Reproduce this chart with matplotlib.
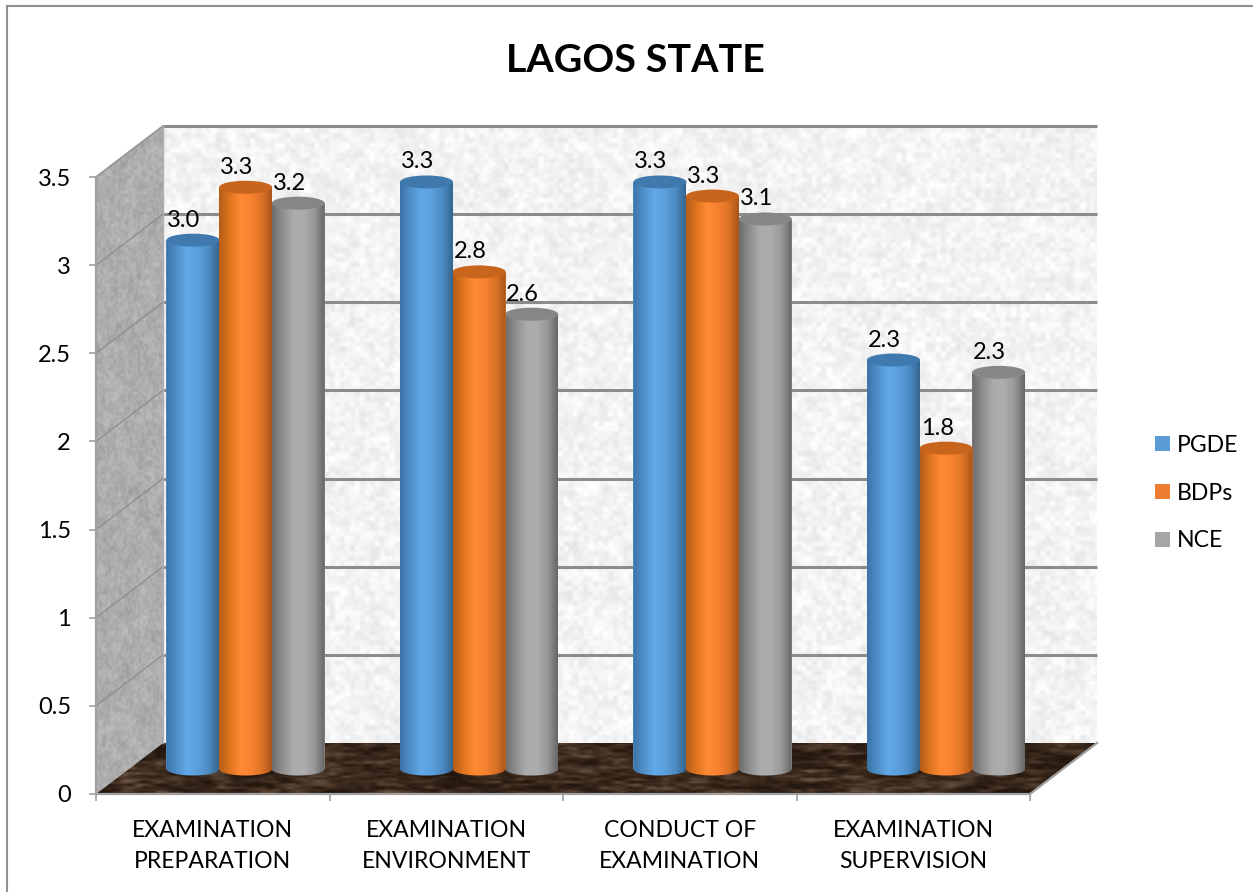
import numpy as np
import matplotlib
matplotlib.use("Agg")
import matplotlib.pyplot as plt
from matplotlib.patches import Polygon, Ellipse, Patch
from matplotlib.lines import Line2D
from matplotlib.colors import LinearSegmentedColormap

categories = ["EXAMINATION\nPREPARATION", "EXAMINATION\nENVIRONMENT",
              "CONDUCT OF\nEXAMINATION", "EXAMINATION\nSUPERVISION"]
series_names = ["PGDE", "BDPs", "NCE"]
pgde = [3.00, 3.33, 3.33, 2.32]
bdps = [3.30, 2.82, 3.25, 1.82]
nce = [3.21, 2.58, 3.12, 2.25]
pgde_labels = ["3.0", "3.3", "3.3", "2.3"]
bdps_labels = ["3.3", "2.8", "3.3", "1.8"]
nce_labels = ["3.2", "2.6", "3.1", "2.3"]
y_ticks = [0, 0.5, 1, 1.5, 2, 2.5, 3, 3.5]
y_tick_labels = ["0", "0.5", "1", "1.5", "2", "2.5", "3", "3.5"]
title = "LAGOS STATE"

FONT = ["Lato", "DejaVu Sans"]
plt.rcParams["font.family"] = FONT
W, H = 1253, 892
fig = plt.figure(figsize=(W / 100, H / 100), dpi=100, facecolor="white")
L, R, T, B = 96, 1030, 177, 794
ax = fig.add_axes([L / W, 1 - B / H, (R - L) / W, (B - T) / H])
ax.patch.set_alpha(0)
ux, uy = (R - L) / 4, (B - T) / 3.5
DX, DY = 67 / ux, 51 / uy


def hash_noise(h, w, seed):
    yy, xx = np.mgrid[0:h, 0:w]
    v = np.sin(xx * 12.9898 + yy * 78.233 + seed * 37.719) * 43758.5453
    return v - np.floor(v)


def smooth_noise(h, w, cell_y, seed, cell_x=None):
    cell_x = cell_x or cell_y
    ch, cw = h // cell_y + 2, w // cell_x + 2
    g = hash_noise(ch, cw, seed)
    yi = np.arange(h) / cell_y
    xi = np.arange(w) / cell_x
    y0, x0 = yi.astype(int), xi.astype(int)
    fy, fx = (yi - y0)[:, None], (xi - x0)[None, :]
    fy, fx = fy * fy * (3 - 2 * fy), fx * fx * (3 - 2 * fx)
    a = g[np.ix_(y0, x0)]
    b = g[np.ix_(y0, x0 + 1)]
    c = g[np.ix_(y0 + 1, x0)]
    d = g[np.ix_(y0 + 1, x0 + 1)]
    return (a * (1 - fx) + b * fx) * (1 - fy) + (c * (1 - fx) + d * fx) * fy


def textured(tex, extent, corners, z):
    im = ax.imshow(tex, extent=extent, aspect="auto", origin="lower",
                   interpolation="bilinear", zorder=z)
    poly = Polygon(corners, closed=True, transform=ax.transData)
    im.set_clip_path(poly)
    im.set_clip_box(fig.bbox)
    return im


# back wall
h, w = 620, 940
n = (0.55 * smooth_noise(h, w, 5, 1) + 0.25 * smooth_noise(h, w, 12, 2)
     + 0.2 * smooth_noise(h, w, 3, 3))
v = np.clip(0.955 + (n - 0.5) * 0.14, 0, 1)
tex = np.dstack([v, v, v])
back = [(DX, DY), (4 + DX, DY), (4 + DX, 3.5 + DY), (DX, 3.5 + DY)]
textured(tex, (DX, 4 + DX, DY, 3.5 + DY), back, 1)

# side wall
h, w = 670, 70
n = (0.5 * smooth_noise(h, w, 3, 4, 2) + 0.3 * smooth_noise(h, w, 7, 5, 4)
     + 0.2 * smooth_noise(h, w, 20, 9, 12))
v = np.clip(0.68 + (n - 0.5) * 0.17, 0, 1)
tex = np.dstack([v, v, v])
side = [(0, 0), (DX, DY), (DX, 3.5 + DY), (0, 3.5)]
textured(tex, (0, DX, 0, 3.5 + DY), side, 1)

# floor
h, w = 55, 1010
n = (0.45 * smooth_noise(h, w, 3, 6, 16) + 0.3 * smooth_noise(h, w, 8, 7, 40)
     + 0.25 * smooth_noise(h, w, 2, 8, 7))
n = np.clip((n - 0.5) * 1.8 + 0.42, 0, 1)
floor_cmap = LinearSegmentedColormap.from_list("f", ["#24170e", "#3d2b1e", "#65503f"])
tex = floor_cmap(n)[:, :, :3]
floor = [(0, 0), (4, 0), (4 + DX, DY), (DX, DY)]
textured(tex, (0, 4 + DX, 0, DY), floor, 1)

# gridlines: back wall and side wall
for t in y_ticks[1:]:
    ax.plot([DX, 4 + DX], [t + DY, t + DY], color="#8c8c8c", lw=2.2, zorder=2,
            clip_on=False, solid_capstyle="butt")
    ax.plot([0, DX], [t, t + DY], color="#8f8f8f", lw=1.0, zorder=2, clip_on=False)
ax.plot([DX, DX], [DY, 3.5 + DY], color="#b0b0b0", lw=1.0, zorder=2, clip_on=False)
ax.plot([0, DX], [3.5, 3.5 + DY], color="#9a9a9a", lw=1.2, zorder=2, clip_on=False)
ax.plot([4, 4 + DX], [0, DY], color="#a0a0a0", lw=1.6, zorder=3, clip_on=False)

# cylinders
ramps = [
    (["#3c73a6", "#4f8fc9", "#62a9e8", "#5b9fdc", "#4d8cc4", "#34658f"], "#3f79ae", "#5b9bd5"),
    (["#b55c18", "#e0751f", "#ff8a33", "#f98230", "#dd7427", "#a9551a"], "#c8641c", "#ed7d31"),
    (["#6c6c6c", "#8f8f8f", "#ababab", "#adadad", "#999999", "#666666"], "#868686", "#a5a5a5"),
]
width = 53 / ux
step = 52.6 / ux
e_h = 13 / uy
base = 0.49 * DY
shift = 0.49 * DX + 0.5
x_idx = np.arange(len(categories), dtype=float)
order = [0, 2, 1]
all_vals = [pgde, bdps, nce]
all_labels = [pgde_labels, bdps_labels, nce_labels]
label_z = [20, 20, 5.9]
t_arc = np.linspace(np.pi, 2 * np.pi, 40)
for s in order:
    vals = all_vals[s]
    ramp, top_col, base_col = ramps[s]
    cmap = LinearSegmentedColormap.from_list("c%d" % s, ramp)
    xs = x_idx + shift + (s - 1) * step
    z = 5 + {0: 0, 2: 1, 1: 2}[s] * 0.5
    ax.bar(xs, vals, width=width, bottom=base, color=base_col, zorder=z, clip_on=False)
    for xc, val in zip(xs, vals):
        x0, x1 = xc - width / 2, xc + width / 2
        im = ax.imshow(np.linspace(0, 1, 128)[None, :], cmap=cmap,
                       extent=(x0, x1, base - e_h, base + val), aspect="auto",
                       origin="lower", zorder=z + 0.01)
        arc_x = xc + width / 2 * np.cos(t_arc)
        arc_y = base + e_h / 2 * np.sin(t_arc)
        outline = list(zip(arc_x, arc_y)) + [(x1, base + val), (x0, base + val)]
        im.set_clip_path(Polygon(outline, closed=True, transform=ax.transData))
        im.set_clip_box(fig.bbox)
        ax.add_patch(Ellipse((xc, base + val), width, e_h, facecolor=top_col,
                             edgecolor="none", zorder=z + 0.02, clip_on=False))

# data labels
for s in range(3):
    xs = x_idx + shift + (s - 1) * step
    for xc, val, lab in zip(xs, all_vals[s], all_labels[s]):
        ax.annotate(lab, (xc, base + val), xytext=(-9 * 0.72, 20 * 0.72),
                    textcoords="offset points", ha="center", va="center",
                    fontsize=17, color="black", zorder=label_z[s], annotation_clip=False)

ax.set_xlim(0, 4)
ax.set_ylim(0, 3.5)
ax.set_yticks(y_ticks)
ax.set_yticklabels(y_tick_labels, fontsize=17)
ax.set_xticks(np.arange(5))
ax.set_xticklabels([])
ax.set_xticks(x_idx + 0.5, minor=True)
ax.set_xticklabels(categories, minor=True, fontsize=16.6, linespacing=1.63)
ax.tick_params(axis="x", which="minor", length=0, pad=18.5)
ax.tick_params(axis="both", which="major", color="#a0a0a0", width=1.2, length=5)
ax.tick_params(axis="y", pad=13)
for name in ("top", "right"):
    ax.spines[name].set_visible(False)
for name in ("left", "bottom"):
    ax.spines[name].set_color("#a0a0a0")
    ax.spines[name].set_linewidth(1.6)
    ax.spines[name].set_zorder(4)

fig.text(635 / W, 1 - 60 / H, title, ha="center", va="center", fontsize=28.4,
         fontweight="bold", color="black")

handles = [Patch(facecolor=c, edgecolor="none") for c in ("#5b9bd5", "#ed7d31", "#a5a5a5")]
fig.legend(handles, series_names, loc="center left", bbox_to_anchor=(1155 / W, 1 - 493 / H),
           frameon=False, fontsize=16.6, handlelength=0.65, handleheight=0.65,
           handletextpad=0.3, labelspacing=1.17, borderpad=0, borderaxespad=0)

# outer frame: only the top and left edges fall inside the picture
fig.add_artist(Line2D([6.5 / W, 1.0], [1 - 6 / H, 1 - 6 / H], transform=fig.transFigure,
                      color="#8f8f8f", lw=1.5))
fig.add_artist(Line2D([6.5 / W, 6.5 / W], [0, 1 - 6 / H], transform=fig.transFigure,
                      color="#8f8f8f", lw=1.5))
fig.savefig("out.png", dpi=100)
